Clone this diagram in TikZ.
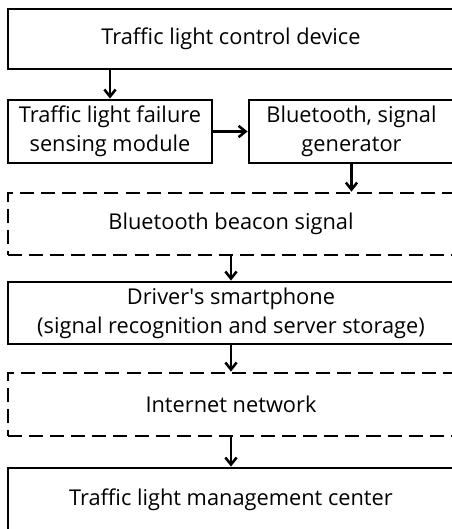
\documentclass[tikz,border=0pt]{standalone}
\usepackage{fontspec}
\setmainfont{Open Sans}
\usetikzlibrary{arrows.meta,calc}

\begin{document}
\begin{tikzpicture}[
  box/.style={rectangle, draw, line width=2pt, align=center, inner sep=0pt,
    font=\fontsize{15.5}{20.8}\selectfont},
  dbox/.style={box, dash pattern=on 10pt off 5pt},
  arr/.style={line width=2pt, -{Straight Barb[length=5pt,width=8pt,line width=1.8pt]}}
]
\useasboundingbox (0,0) rectangle (11.3,-13.225);
\clip (0,0) rectangle (11.3,-13.225);

\node[box, minimum width=11.15cm, minimum height=1.5cm] (device) at (5.775,-0.975) {Traffic light control device};
\node[box, minimum width=5.1cm, minimum height=1.575cm] (failure) at (2.75,-3.2875) {Traffic light failure\\sensing module};
\node[box, minimum width=5.125cm, minimum height=1.575cm] (bluetooth) at (8.7875,-3.2875) {Bluetooth, signal\\generator};
\node[dbox, minimum width=11.15cm, minimum height=1.55cm] (beacon) at (5.775,-5.6) {Bluetooth beacon signal};
\node[box, minimum width=11.15cm, minimum height=1.55cm] (phone) at (5.775,-7.825) {Driver\textquotesingle s smartphone\\(signal recognition and server storage)};
\node[dbox, minimum width=11.15cm, minimum height=1.575cm] (internet) at (5.775,-10.1125) {Internet network};
\node[box, minimum width=11.15cm, minimum height=1.6cm] (center) at (5.775,-12.5) {Traffic light management center};

\draw[arr] (device.south -| failure.north) -- (failure.north);
\draw[arr] (failure.east) -- (bluetooth.west);
\draw[arr] (bluetooth.south) -- (bluetooth.south |- beacon.north);
\draw[arr] (beacon.south) -- (phone.north);
\draw[arr] (phone.south) -- (internet.north);
\draw[arr] (internet.south) -- (center.north);
\end{tikzpicture}
\end{document}
